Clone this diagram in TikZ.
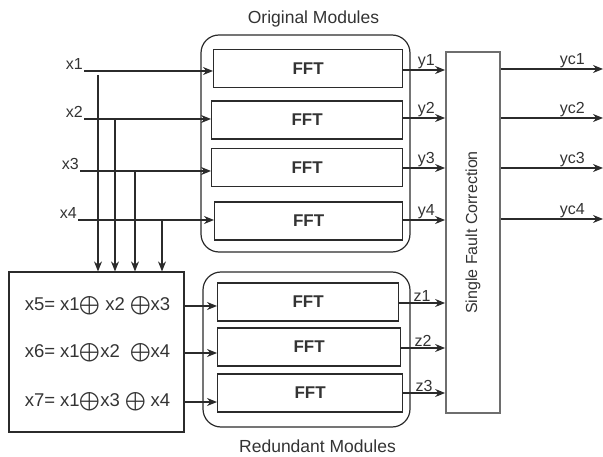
\documentclass[tikz,border=0pt]{standalone}
\usepackage{fontspec}
\setmainfont{Liberation Sans}
\usepackage{amsmath,amssymb}
\usepackage{xcolor}
\usetikzlibrary{arrows.meta,calc}
\definecolor{linedark}{HTML}{2B2B2B}
\definecolor{textdark}{HTML}{333333}
\definecolor{boxgray}{HTML}{6E6E6E}
\tikzset{every node/.append style={font=\fontsize{16}{19}\selectfont,text=textdark}}
\tikzset{
  bigtext/.style={font=\fontsize{17.5}{21}\selectfont},
  formula/.style={font=\fontsize{18.5}{22}\selectfont},
  fftbox/.style={draw=linedark,line width=1.2pt,minimum height=38pt,inner sep=0pt,anchor=west,font=\fontsize{17}{20}\selectfont\bfseries},
  groupbox/.style={draw=linedark,line width=1.2pt,rounded corners=18pt,inner sep=0pt},
  arr/.style={->,draw=linedark,line width=1.2pt},
  lbl/.style={inner sep=1pt}
}
\newcommand{\xo}{$\bigoplus$}

\begin{document}
\begin{tikzpicture}[x=1pt,y=-1pt,>={Stealth[length=10pt,width=8pt]}]
  \useasboundingbox (0,0) rectangle (603,457);
  % module groups
  \node[groupbox,minimum width=209pt,minimum height=217pt] (orig) at (305.5,143.5) {};
  \node[groupbox,minimum width=207pt,minimum height=155pt] (redun) at (306.5,349.5) {};
  \node[bigtext] (origtitle) at (313.5,19) {Original Modules};
  \node[bigtext] (reduntitle) at (317.5,446) {Redundant Modules};
  % FFT blocks
  \node[fftbox,minimum width=189pt] (fft1) at (213,68.5) {FFT};
  \node[fftbox,minimum width=191pt] (fft2) at (211,120) {FFT};
  \node[fftbox,minimum width=191pt] (fft3) at (211,167.5) {FFT};
  \node[fftbox,minimum width=188pt] (fft4) at (214,221) {FFT};
  \node[fftbox,minimum width=181pt] (fft5) at (217,302) {FFT};
  \node[fftbox,minimum width=183pt] (fft6) at (217,347) {FFT};
  \node[fftbox,minimum width=185pt] (fft7) at (217,393) {FFT};
  % correction block
  \node[draw=boxgray,line width=1.8pt,minimum width=54pt,minimum height=361pt,inner sep=0pt] (sfc) at (473,232.5) {};
  \node[rotate=90] (sfctext) at (sfc.center) {Single Fault Correction};
  % encoder block
  \node[draw=linedark,line width=1.2pt,minimum width=175pt,minimum height=160pt,inner sep=0pt] (xor) at (96.5,352) {};
  \node[formula] (x5) at (97.5,306) {x5= x1\xo\ x2 \xo x3};
  \node[formula] (x6) at (97.5,353) {x6= x1\xo x2 \ \xo x4};
  \node[formula] (x7) at (97.5,402) {x7= x1\xo x3 \xo\ x4};
  % inputs
  \node[lbl,anchor=south east] (x1) at (84,71) {x1};
  \node[lbl,anchor=south east] (x2) at (84,119) {x2};
  \node[lbl,anchor=south east] (x3) at (80,171) {x3};
  \node[lbl,anchor=south east] (x4) at (78,220) {x4};
  \draw[arr] (x1.south east) -- (x1.south east -| fft1.west);
  \draw[arr] (x2.south east) -- (x2.south east -| fft2.west);
  \draw[arr] (x3.south east) -- (x3.south east -| fft3.west);
  \draw[arr] (x4.south east) -- (x4.south east -| fft4.west);
  % taps into the encoder
  \coordinate (t1) at (98,75);
  \coordinate (t2) at (115,119);
  \coordinate (t3) at (135,172);
  \coordinate (t4) at (162,220);
  \foreach \t in {t1,t2,t3,t4}
    \draw[arr] (\t) -- (\t |- xor.north);
  % encoder to redundant FFTs
  \draw[arr] (x5 -| xor.east) -- (x5 -| fft5.west);
  \draw[arr] (x6 -| xor.east) -- (x6 -| fft6.west);
  \draw[arr] (x7 -| xor.east) -- (x7 -| fft7.west);
  % FFT outputs
  \draw[arr] ($(fft1.east)+(0,1.5)$) coordinate (y1) -- (y1 -| sfc.west) node[lbl,above,pos=0.55] {y1};
  \draw[arr] ($(fft2.east)+(0,-2)$) coordinate (y2) -- (y2 -| sfc.west) node[lbl,above,pos=0.55] {y2};
  \draw[arr] ($(fft3.east)+(0,0.5)$) coordinate (y3) -- (y3 -| sfc.west) node[lbl,above,pos=0.55] {y3};
  \draw[arr] ($(fft4.east)+(0,-1)$) coordinate (y4) -- (y4 -| sfc.west) node[lbl,above,pos=0.55] {y4};
  \draw[arr] ($(fft5.east)+(0,1)$) coordinate (z1) -- (z1 -| sfc.west) node[lbl,above,pos=0.5] {z1};
  \draw[arr] ($(fft6.east)+(0,1)$) coordinate (z2) -- (z2 -| sfc.west) node[lbl,above,pos=0.5] {z2};
  \draw[arr] ($(fft7.east)+(0,0)$) coordinate (z3) -- (z3 -| sfc.west) node[lbl,above,pos=0.5] {z3};
  % corrected outputs
  \foreach \i/\yy in {1/69,2/118,3/168,4/219} {
    \coordinate (o\i) at (603,\yy);
    \draw[arr] (o\i -| sfc.east) -- (o\i) node[lbl,above,pos=0.7] {yc\i};
  }
\end{tikzpicture}
\end{document}
